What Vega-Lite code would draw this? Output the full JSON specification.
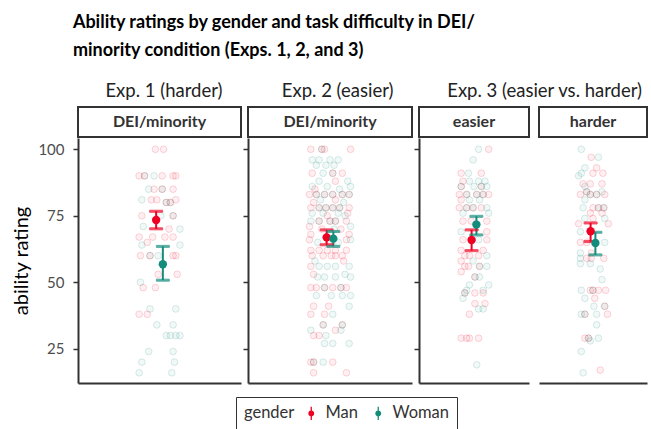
{
"$schema":"https://vega.github.io/schema/vega-lite/v6.json",
"padding":{"left":11,"top":13,"right":0,"bottom":0},
"title":{"text":["Ability ratings by gender and task difficulty in DEI/","minority condition (Exps. 1, 2, and 3)"],"anchor":"start","frame":"bounds","dx":61,"fontSize":18,"font":"Lato","fontWeight":"bold","color":"#000","lineHeight":28,"offset":22},
"datasets":{
"pts":[
{"p":"e1","g":"Man","v":100,"j":-0.03},{"p":"e1","g":"Man","v":100,"j":0.03},{"p":"e1","g":"Man","v":90,"j":-0.15},{"p":"e1","g":"Woman","v":90,"j":-0.11},{"p":"e1","g":"Man","v":90,"j":-0.11},{"p":"e1","g":"Woman","v":90,"j":-0.04},{"p":"e1","g":"Man","v":90,"j":0.02},{"p":"e1","g":"Man","v":90,"j":0.10},{"p":"e1","g":"Man","v":90,"j":0.12},
{"p":"e1","g":"Woman","v":85,"j":-0.08},{"p":"e1","g":"Man","v":85,"j":-0.04},{"p":"e1","g":"Woman","v":85,"j":0.02},{"p":"e1","g":"Man","v":85,"j":0.02},{"p":"e1","g":"Man","v":85,"j":0.10},
{"p":"e1","g":"Woman","v":81,"j":-0.13},{"p":"e1","g":"Man","v":81,"j":-0.06},{"p":"e1","g":"Man","v":81,"j":-0.02},{"p":"e1","g":"Woman","v":80,"j":0.05},{"p":"e1","g":"Man","v":80,"j":0.05},{"p":"e1","g":"Woman","v":80,"j":0.08},{"p":"e1","g":"Man","v":80,"j":0.08},{"p":"e1","g":"Man","v":81,"j":0.12},
{"p":"e1","g":"Man","v":75,"j":-0.13},{"p":"e1","g":"Woman","v":75,"j":0.01},{"p":"e1","g":"Woman","v":75,"j":0.10},{"p":"e1","g":"Man","v":75,"j":0.10},
{"p":"e1","g":"Woman","v":71,"j":-0.12},{"p":"e1","g":"Man","v":70,"j":0.07},{"p":"e1","g":"Woman","v":70,"j":0.15},
{"p":"e1","g":"Man","v":67,"j":-0.15},{"p":"e1","g":"Man","v":67,"j":-0.05},{"p":"e1","g":"Man","v":67,"j":0.04},{"p":"e1","g":"Man","v":67,"j":0.10},{"p":"e1","g":"Man","v":65,"j":-0.09},{"p":"e1","g":"Woman","v":64,"j":-0.13},{"p":"e1","g":"Woman","v":64,"j":0.15},
{"p":"e1","g":"Man","v":60,"j":-0.14},{"p":"e1","g":"Woman","v":60,"j":-0.07},{"p":"e1","g":"Man","v":60,"j":-0.07},{"p":"e1","g":"Woman","v":60,"j":-0.01},{"p":"e1","g":"Man","v":60,"j":0.10},{"p":"e1","g":"Man","v":60,"j":0.12},
{"p":"e1","g":"Man","v":53,"j":-0.01},{"p":"e1","g":"Man","v":53,"j":0.13},{"p":"e1","g":"Woman","v":50,"j":-0.14},{"p":"e1","g":"Man","v":48,"j":-0.12},{"p":"e1","g":"Man","v":48,"j":-0.03},
{"p":"e1","g":"Woman","v":40,"j":-0.07},{"p":"e1","g":"Woman","v":40,"j":0.12},{"p":"e1","g":"Man","v":38,"j":-0.15},{"p":"e1","g":"Man","v":38,"j":-0.09},{"p":"e1","g":"Woman","v":34,"j":-0.02},{"p":"e1","g":"Woman","v":34,"j":0.10},
{"p":"e1","g":"Woman","v":30,"j":0.05},{"p":"e1","g":"Woman","v":30,"j":0.08},{"p":"e1","g":"Woman","v":30,"j":0.12},{"p":"e1","g":"Woman","v":30,"j":0.15},
{"p":"e1","g":"Woman","v":24,"j":-0.08},{"p":"e1","g":"Woman","v":24,"j":0.10},{"p":"e1","g":"Woman","v":20,"j":-0.13},{"p":"e1","g":"Woman","v":20,"j":0.11},{"p":"e1","g":"Woman","v":16,"j":-0.15},{"p":"e1","g":"Woman","v":16,"j":0.09},

{"p":"e2","g":"Man","v":100,"j":-0.14},{"p":"e2","g":"Man","v":100,"j":-0.06},{"p":"e2","g":"Woman","v":100,"j":-0.06},{"p":"e2","g":"Man","v":100,"j":-0.04},{"p":"e2","g":"Man","v":100,"j":0.15},
{"p":"e2","g":"Woman","v":96,"j":-0.13},{"p":"e2","g":"Woman","v":96,"j":-0.08},{"p":"e2","g":"Woman","v":96,"j":0.0},{"p":"e2","g":"Woman","v":96,"j":0.06},
{"p":"e2","g":"Woman","v":94,"j":-0.10},{"p":"e2","g":"Woman","v":94,"j":-0.03},{"p":"e2","g":"Woman","v":94,"j":0.03},
{"p":"e2","g":"Man","v":91,"j":-0.13},{"p":"e2","g":"Woman","v":91,"j":-0.05},{"p":"e2","g":"Woman","v":91,"j":0.02},{"p":"e2","g":"Man","v":91,"j":0.02},{"p":"e2","g":"Man","v":91,"j":0.09},
{"p":"e2","g":"Woman","v":88,"j":-0.08},{"p":"e2","g":"Man","v":88,"j":0.04},{"p":"e2","g":"Woman","v":88,"j":0.13},
{"p":"e2","g":"Woman","v":86,"j":-0.13},{"p":"e2","g":"Woman","v":86,"j":-0.02},{"p":"e2","g":"Woman","v":86,"j":0.15},{"p":"e2","g":"Man","v":85,"j":-0.11},{"p":"e2","g":"Woman","v":85,"j":0.07},
{"p":"e2","g":"Man","v":83,"j":-0.15},{"p":"e2","g":"Man","v":83,"j":-0.10},{"p":"e2","g":"Woman","v":83,"j":-0.10},{"p":"e2","g":"Man","v":83,"j":-0.04},{"p":"e2","g":"Woman","v":83,"j":-0.04},{"p":"e2","g":"Man","v":83,"j":0.02},{"p":"e2","g":"Woman","v":83,"j":0.02},{"p":"e2","g":"Man","v":83,"j":0.09},{"p":"e2","g":"Woman","v":83,"j":0.09},{"p":"e2","g":"Man","v":83,"j":0.14},{"p":"e2","g":"Woman","v":83,"j":0.14},
{"p":"e2","g":"Woman","v":81,"j":-0.07},{"p":"e2","g":"Man","v":81,"j":0.04},{"p":"e2","g":"Man","v":80,"j":-0.12},{"p":"e2","g":"Woman","v":80,"j":0.10},
{"p":"e2","g":"Man","v":78,"j":-0.14},{"p":"e2","g":"Man","v":78,"j":-0.08},{"p":"e2","g":"Woman","v":78,"j":-0.08},{"p":"e2","g":"Man","v":78,"j":-0.03},{"p":"e2","g":"Woman","v":78,"j":-0.03},{"p":"e2","g":"Man","v":78,"j":0.02},{"p":"e2","g":"Woman","v":78,"j":0.02},{"p":"e2","g":"Man","v":78,"j":0.07},{"p":"e2","g":"Woman","v":78,"j":0.07},{"p":"e2","g":"Man","v":78,"j":0.14},
{"p":"e2","g":"Woman","v":76,"j":-0.13},{"p":"e2","g":"Woman","v":76,"j":-0.05},{"p":"e2","g":"Woman","v":76,"j":0.06},{"p":"e2","g":"Man","v":76,"j":0.13},{"p":"e2","g":"Man","v":75,"j":-0.02},{"p":"e2","g":"Woman","v":75,"j":0.11},
{"p":"e2","g":"Woman","v":73,"j":-0.14},{"p":"e2","g":"Woman","v":73,"j":-0.08},{"p":"e2","g":"Man","v":73,"j":-0.08},{"p":"e2","g":"Woman","v":73,"j":0.0},{"p":"e2","g":"Man","v":73,"j":0.0},{"p":"e2","g":"Woman","v":73,"j":0.04},{"p":"e2","g":"Man","v":73,"j":0.04},{"p":"e2","g":"Man","v":73,"j":0.12},
{"p":"e2","g":"Man","v":71,"j":-0.15},{"p":"e2","g":"Woman","v":71,"j":0.15},{"p":"e2","g":"Man","v":70,"j":-0.06},{"p":"e2","g":"Woman","v":70,"j":0.03},{"p":"e2","g":"Man","v":70,"j":0.08},
{"p":"e2","g":"Man","v":68,"j":-0.14},{"p":"e2","g":"Man","v":68,"j":0.14},{"p":"e2","g":"Man","v":66,"j":-0.15},{"p":"e2","g":"Man","v":66,"j":0.12},{"p":"e2","g":"Woman","v":66,"j":0.15},
{"p":"e2","g":"Woman","v":65,"j":-0.09},{"p":"e2","g":"Man","v":65,"j":-0.01},{"p":"e2","g":"Woman","v":65,"j":0.06},
{"p":"e2","g":"Man","v":62,"j":-0.14},{"p":"e2","g":"Man","v":62,"j":-0.08},{"p":"e2","g":"Man","v":62,"j":-0.02},{"p":"e2","g":"Man","v":62,"j":0.04},{"p":"e2","g":"Man","v":62,"j":0.12},
{"p":"e2","g":"Man","v":60,"j":-0.13},{"p":"e2","g":"Man","v":60,"j":-0.05},{"p":"e2","g":"Man","v":60,"j":0.01},{"p":"e2","g":"Man","v":60,"j":0.04},{"p":"e2","g":"Man","v":60,"j":0.09},
{"p":"e2","g":"Woman","v":58,"j":-0.11},{"p":"e2","g":"Man","v":58,"j":0.10},
{"p":"e2","g":"Man","v":56,"j":-0.14},{"p":"e2","g":"Woman","v":56,"j":-0.08},{"p":"e2","g":"Woman","v":56,"j":-0.02},{"p":"e2","g":"Woman","v":56,"j":0.04},{"p":"e2","g":"Woman","v":56,"j":0.14},
{"p":"e2","g":"Man","v":53,"j":-0.12},{"p":"e2","g":"Woman","v":53,"j":0.11},
{"p":"e2","g":"Woman","v":52,"j":-0.09},{"p":"e2","g":"Woman","v":52,"j":-0.04},{"p":"e2","g":"Woman","v":52,"j":0.04},{"p":"e2","g":"Woman","v":52,"j":0.15},
{"p":"e2","g":"Man","v":48,"j":-0.14},{"p":"e2","g":"Man","v":48,"j":-0.10},{"p":"e2","g":"Man","v":48,"j":-0.04},{"p":"e2","g":"Woman","v":48,"j":-0.04},{"p":"e2","g":"Man","v":48,"j":0.02},{"p":"e2","g":"Man","v":48,"j":0.08},{"p":"e2","g":"Woman","v":48,"j":0.08},{"p":"e2","g":"Man","v":48,"j":0.12},
{"p":"e2","g":"Woman","v":45,"j":-0.10},{"p":"e2","g":"Woman","v":45,"j":0.01},{"p":"e2","g":"Woman","v":45,"j":0.09},{"p":"e2","g":"Woman","v":45,"j":0.15},
{"p":"e2","g":"Man","v":41,"j":-0.12},{"p":"e2","g":"Man","v":41,"j":-0.01},{"p":"e2","g":"Woman","v":41,"j":0.14},
{"p":"e2","g":"Man","v":38,"j":-0.14},{"p":"e2","g":"Man","v":38,"j":-0.04},{"p":"e2","g":"Woman","v":38,"j":0.02},
{"p":"e2","g":"Man","v":34,"j":-0.05},{"p":"e2","g":"Woman","v":34,"j":-0.05},{"p":"e2","g":"Man","v":34,"j":0.09},{"p":"e2","g":"Woman","v":34,"j":0.09},
{"p":"e2","g":"Woman","v":32,"j":-0.14},{"p":"e2","g":"Man","v":32,"j":0.04},{"p":"e2","g":"Woman","v":32,"j":0.08},
{"p":"e2","g":"Man","v":30,"j":-0.12},{"p":"e2","g":"Man","v":30,"j":-0.08},{"p":"e2","g":"Woman","v":30,"j":-0.03},
{"p":"e2","g":"Woman","v":27,"j":-0.04},{"p":"e2","g":"Woman","v":27,"j":0.02},{"p":"e2","g":"Woman","v":27,"j":0.14},
{"p":"e2","g":"Man","v":20,"j":-0.14},{"p":"e2","g":"Man","v":20,"j":-0.12},{"p":"e2","g":"Woman","v":20,"j":-0.12},{"p":"e2","g":"Woman","v":20,"j":-0.05},{"p":"e2","g":"Man","v":20,"j":0.02},
{"p":"e2","g":"Man","v":16,"j":-0.12},{"p":"e2","g":"Man","v":16,"j":0.12},

{"p":"e3e","g":"Woman","v":100,"j":0.05},{"p":"e3e","g":"Man","v":100,"j":0.16},{"p":"e3e","g":"Woman","v":96,"j":-0.01},
{"p":"e3e","g":"Man","v":91,"j":-0.14},{"p":"e3e","g":"Woman","v":91,"j":-0.06},{"p":"e3e","g":"Man","v":91,"j":0.08},
{"p":"e3e","g":"Man","v":88,"j":-0.12},{"p":"e3e","g":"Woman","v":88,"j":-0.05},{"p":"e3e","g":"Woman","v":88,"j":0.05},{"p":"e3e","g":"Woman","v":88,"j":0.12},
{"p":"e3e","g":"Man","v":86,"j":-0.14},{"p":"e3e","g":"Woman","v":86,"j":-0.14},{"p":"e3e","g":"Woman","v":86,"j":0.0},{"p":"e3e","g":"Man","v":86,"j":0.08},{"p":"e3e","g":"Woman","v":86,"j":0.08},{"p":"e3e","g":"Woman","v":86,"j":0.14},
{"p":"e3e","g":"Man","v":83,"j":-0.16},{"p":"e3e","g":"Man","v":83,"j":-0.08},{"p":"e3e","g":"Woman","v":83,"j":-0.08},{"p":"e3e","g":"Man","v":83,"j":0.03},{"p":"e3e","g":"Woman","v":83,"j":0.03},{"p":"e3e","g":"Man","v":83,"j":0.10},{"p":"e3e","g":"Woman","v":83,"j":0.10},{"p":"e3e","g":"Man","v":83,"j":0.16},
{"p":"e3e","g":"Man","v":81,"j":-0.14},{"p":"e3e","g":"Woman","v":81,"j":-0.05},{"p":"e3e","g":"Woman","v":81,"j":0.06},
{"p":"e3e","g":"Man","v":78,"j":-0.16},{"p":"e3e","g":"Man","v":78,"j":-0.08},{"p":"e3e","g":"Woman","v":78,"j":-0.08},{"p":"e3e","g":"Man","v":78,"j":-0.01},{"p":"e3e","g":"Woman","v":78,"j":-0.01},{"p":"e3e","g":"Man","v":78,"j":0.08},{"p":"e3e","g":"Woman","v":78,"j":0.14},
{"p":"e3e","g":"Woman","v":76,"j":-0.12},{"p":"e3e","g":"Woman","v":76,"j":0.16},
{"p":"e3e","g":"Man","v":73,"j":-0.12},{"p":"e3e","g":"Man","v":73,"j":-0.03},{"p":"e3e","g":"Man","v":73,"j":0.14},
{"p":"e3e","g":"Woman","v":69,"j":-0.14},{"p":"e3e","g":"Man","v":69,"j":0.14},
{"p":"e3e","g":"Man","v":66,"j":-0.12},{"p":"e3e","g":"Woman","v":66,"j":0.05},{"p":"e3e","g":"Man","v":66,"j":0.14},
{"p":"e3e","g":"Man","v":62,"j":-0.14},{"p":"e3e","g":"Man","v":62,"j":0.10},
{"p":"e3e","g":"Man","v":60,"j":-0.10},{"p":"e3e","g":"Man","v":60,"j":-0.05},{"p":"e3e","g":"Man","v":60,"j":0.05},{"p":"e3e","g":"Woman","v":60,"j":0.14},
{"p":"e3e","g":"Man","v":58,"j":-0.14},{"p":"e3e","g":"Woman","v":58,"j":-0.01},
{"p":"e3e","g":"Man","v":56,"j":-0.10},{"p":"e3e","g":"Man","v":56,"j":-0.06},{"p":"e3e","g":"Man","v":56,"j":0.06},{"p":"e3e","g":"Woman","v":56,"j":0.06},{"p":"e3e","g":"Woman","v":56,"j":0.14},
{"p":"e3e","g":"Man","v":54,"j":-0.14},{"p":"e3e","g":"Man","v":52,"j":0.01},{"p":"e3e","g":"Woman","v":52,"j":0.01},{"p":"e3e","g":"Woman","v":52,"j":0.06},
{"p":"e3e","g":"Woman","v":49,"j":-0.05},{"p":"e3e","g":"Woman","v":49,"j":0.16},{"p":"e3e","g":"Woman","v":47,"j":-0.08},{"p":"e3e","g":"Woman","v":47,"j":0.10},
{"p":"e3e","g":"Man","v":46,"j":-0.10},{"p":"e3e","g":"Woman","v":46,"j":-0.10},{"p":"e3e","g":"Man","v":46,"j":0.01},{"p":"e3e","g":"Man","v":46,"j":0.10},
{"p":"e3e","g":"Woman","v":44,"j":-0.12},{"p":"e3e","g":"Man","v":42,"j":0.01},{"p":"e3e","g":"Man","v":42,"j":0.12},
{"p":"e3e","g":"Woman","v":40,"j":0.05},{"p":"e3e","g":"Woman","v":40,"j":0.10},{"p":"e3e","g":"Man","v":38,"j":-0.05},
{"p":"e3e","g":"Man","v":29,"j":-0.14},{"p":"e3e","g":"Man","v":29,"j":-0.08},{"p":"e3e","g":"Man","v":29,"j":-0.05},{"p":"e3e","g":"Man","v":29,"j":0.05},
{"p":"e3e","g":"Woman","v":19,"j":0.03},

{"p":"e3h","g":"Woman","v":100,"j":-0.13},{"p":"e3h","g":"Man","v":97,"j":-0.02},{"p":"e3h","g":"Woman","v":97,"j":0.06},
{"p":"e3h","g":"Woman","v":93,"j":-0.09},{"p":"e3h","g":"Man","v":93,"j":0.04},
{"p":"e3h","g":"Woman","v":91,"j":-0.13},{"p":"e3h","g":"Man","v":91,"j":0.0},{"p":"e3h","g":"Man","v":91,"j":0.11},{"p":"e3h","g":"Woman","v":90,"j":-0.16},
{"p":"e3h","g":"Man","v":87,"j":-0.11},{"p":"e3h","g":"Man","v":87,"j":-0.03},{"p":"e3h","g":"Man","v":87,"j":0.10},{"p":"e3h","g":"Woman","v":86,"j":-0.09},
{"p":"e3h","g":"Man","v":84,"j":-0.07},{"p":"e3h","g":"Woman","v":84,"j":-0.07},{"p":"e3h","g":"Woman","v":84,"j":0.10},
{"p":"e3h","g":"Man","v":83,"j":-0.14},{"p":"e3h","g":"Man","v":83,"j":-0.03},{"p":"e3h","g":"Woman","v":83,"j":-0.03},{"p":"e3h","g":"Man","v":83,"j":0.04},{"p":"e3h","g":"Woman","v":83,"j":0.04},{"p":"e3h","g":"Man","v":83,"j":0.13},
{"p":"e3h","g":"Woman","v":81,"j":-0.09},
{"p":"e3h","g":"Woman","v":78,"j":-0.11},{"p":"e3h","g":"Man","v":78,"j":0.0},{"p":"e3h","g":"Man","v":78,"j":0.06},{"p":"e3h","g":"Woman","v":78,"j":0.06},{"p":"e3h","g":"Man","v":78,"j":0.12},{"p":"e3h","g":"Woman","v":78,"j":0.12},
{"p":"e3h","g":"Man","v":76,"j":-0.03},{"p":"e3h","g":"Man","v":76,"j":0.10},
{"p":"e3h","g":"Woman","v":74,"j":-0.09},{"p":"e3h","g":"Man","v":74,"j":0.0},{"p":"e3h","g":"Woman","v":74,"j":0.13},
{"p":"e3h","g":"Man","v":72,"j":-0.16},{"p":"e3h","g":"Man","v":72,"j":0.17},{"p":"e3h","g":"Woman","v":69,"j":-0.14},
{"p":"e3h","g":"Man","v":65,"j":-0.14},{"p":"e3h","g":"Man","v":65,"j":-0.07},{"p":"e3h","g":"Woman","v":65,"j":0.13},
{"p":"e3h","g":"Woman","v":61,"j":-0.14},{"p":"e3h","g":"Man","v":61,"j":-0.02},
{"p":"e3h","g":"Woman","v":59,"j":-0.14},{"p":"e3h","g":"Man","v":59,"j":-0.07},{"p":"e3h","g":"Man","v":59,"j":-0.02},{"p":"e3h","g":"Man","v":59,"j":0.12},
{"p":"e3h","g":"Woman","v":57,"j":-0.14},{"p":"e3h","g":"Woman","v":57,"j":-0.03},{"p":"e3h","g":"Woman","v":55,"j":0.08},{"p":"e3h","g":"Woman","v":51,"j":0.10},
{"p":"e3h","g":"Woman","v":47,"j":-0.13},{"p":"e3h","g":"Man","v":47,"j":-0.03},{"p":"e3h","g":"Man","v":47,"j":0.0},{"p":"e3h","g":"Woman","v":47,"j":0.0},{"p":"e3h","g":"Man","v":47,"j":0.06},{"p":"e3h","g":"Man","v":47,"j":0.14},
{"p":"e3h","g":"Woman","v":44,"j":-0.09},{"p":"e3h","g":"Man","v":44,"j":0.02},
{"p":"e3h","g":"Woman","v":41,"j":0.01},{"p":"e3h","g":"Man","v":41,"j":0.13},{"p":"e3h","g":"Woman","v":41,"j":0.13},
{"p":"e3h","g":"Woman","v":38,"j":-0.13},{"p":"e3h","g":"Man","v":38,"j":-0.09},{"p":"e3h","g":"Woman","v":38,"j":-0.09},{"p":"e3h","g":"Woman","v":38,"j":0.04},{"p":"e3h","g":"Man","v":38,"j":0.16},
{"p":"e3h","g":"Woman","v":34,"j":0.04},
{"p":"e3h","g":"Man","v":29,"j":-0.09},{"p":"e3h","g":"Man","v":29,"j":-0.05},{"p":"e3h","g":"Woman","v":29,"j":-0.05},{"p":"e3h","g":"Woman","v":29,"j":0.06},{"p":"e3h","g":"Woman","v":28,"j":-0.03},
{"p":"e3h","g":"Woman","v":24,"j":-0.13},{"p":"e3h","g":"Man","v":17,"j":0.08},{"p":"e3h","g":"Woman","v":16,"j":-0.11}
],
"sum":[
{"p":"e1","g":"Man","m":73.4,"lo":70.1,"hi":76.7},{"p":"e1","g":"Woman","m":56.8,"lo":50.8,"hi":63.5},
{"p":"e2","g":"Man","m":66.9,"lo":64.1,"hi":69.7},{"p":"e2","g":"Woman","m":66.4,"lo":63.5,"hi":69.1},
{"p":"e3e","g":"Man","m":65.9,"lo":61.9,"hi":69.7},{"p":"e3e","g":"Woman","m":71.7,"lo":67.8,"hi":74.8},
{"p":"e3h","g":"Man","m":69.2,"lo":65.3,"hi":72.3},{"p":"e3h","g":"Woman","m":64.8,"lo":60.3,"hi":68.8}
]},
"resolve":{"scale":{"xOffset":"independent"}},
"hconcat":[
{"title":{"text":"Exp. 1 (harder)","anchor":"middle","frame":"bounds","dx":37},
 "spacing":0,
 "vconcat":[
  {"width":163,"height":30,"view":{"stroke":"#333","strokeWidth":2},"data":{"values":[{"s":"DEI/minority"}]},"mark":{"type":"text","font":"Lato","fontWeight":"bold","fontSize":16,"color":"#333"},"encoding":{"text":{"field":"s"}}},
  {"width":163,"height":245,
   "layer":[
    {"data":{"name":"pts"},"transform":[{"filter":"datum.p=='e1'"}],"mark":{"type":"point","shape":"circle","size":45,"strokeWidth":1,"strokeOpacity":0.16,"fillOpacity":0.06},
     "encoding":{"x":{"field":"j","type":"quantitative","scale":{"domain":[-0.6,0.6],"nice":false,"zero":false},"axis":{"labels":false,"ticks":false,"title":null,"grid":false}},
      "y":{"field":"v","type":"quantitative","scale":{"domain":[12.16,104.23],"nice":false,"zero":false},"axis":{"values":[25,50,75,100],"title":"ability rating"}},
      "stroke":{"field":"g","type":"nominal","legend":null},"fill":{"field":"g","type":"nominal","legend":null}}},
    {"data":{"name":"sum"},"transform":[{"filter":"datum.p=='e1'"}],"mark":{"type":"rule","strokeWidth":2},
     "encoding":{"x":{"datum":0,"type":"quantitative"},"xOffset":{"field":"g","type":"nominal","scale":{"type":"point","domain":["Man","Woman"],"range":[-6.7,6.7]}},"y":{"field":"lo","type":"quantitative"},"y2":{"field":"hi"},"stroke":{"field":"g","type":"nominal","legend":null}}},
    {"data":{"name":"sum"},"transform":[{"filter":"datum.p=='e1'"}],"mark":{"type":"tick","orient":"horizontal","size":13,"thickness":2},
     "encoding":{"x":{"datum":0,"type":"quantitative"},"xOffset":{"field":"g","type":"nominal","scale":{"type":"point","domain":["Man","Woman"],"range":[-6.7,6.7]}},"y":{"field":"lo","type":"quantitative"},"stroke":{"field":"g","type":"nominal","legend":null},"fill":{"field":"g","type":"nominal","legend":null}}},
    {"data":{"name":"sum"},"transform":[{"filter":"datum.p=='e1'"}],"mark":{"type":"tick","orient":"horizontal","size":13,"thickness":2},
     "encoding":{"x":{"datum":0,"type":"quantitative"},"xOffset":{"field":"g","type":"nominal","scale":{"type":"point","domain":["Man","Woman"],"range":[-6.7,6.7]}},"y":{"field":"hi","type":"quantitative"},"stroke":{"field":"g","type":"nominal","legend":null},"fill":{"field":"g","type":"nominal","legend":null}}},
    {"data":{"name":"sum"},"transform":[{"filter":"datum.p=='e1'"}],"mark":{"type":"circle","size":70,"opacity":1},
     "encoding":{"x":{"datum":0,"type":"quantitative"},"xOffset":{"field":"g","type":"nominal","scale":{"type":"point","domain":["Man","Woman"],"range":[-6.7,6.7]}},"y":{"field":"m","type":"quantitative"},"color":{"field":"g","type":"nominal","title":"gender","legend":{"orient":"none","legendX":158,"legendY":290,"direction":"horizontal"}}}}
   ]}
 ]},
{"title":{"text":"Exp. 2 (easier)","anchor":"middle","frame":"bounds","dx":10},
 "spacing":0,
 "vconcat":[
  {"width":164,"height":30,"view":{"stroke":"#333","strokeWidth":2},"data":{"values":[{"s":"DEI/minority"}]},"mark":{"type":"text","font":"Lato","fontWeight":"bold","fontSize":16,"color":"#333"},"encoding":{"text":{"field":"s"}}},
  {"width":164,"height":245,
   "layer":[
    {"data":{"name":"pts"},"transform":[{"filter":"datum.p=='e2'"}],"mark":{"type":"point","shape":"circle","size":45,"strokeWidth":1,"strokeOpacity":0.16,"fillOpacity":0.06},
     "encoding":{"x":{"field":"j","type":"quantitative","scale":{"domain":[-0.6,0.6],"nice":false,"zero":false},"axis":{"labels":false,"ticks":false,"title":null,"grid":false}},
      "y":{"field":"v","type":"quantitative","scale":{"domain":[12.16,104.23],"nice":false,"zero":false},"axis":{"values":[25,50,75,100],"labels":false,"title":null}},
      "stroke":{"field":"g","type":"nominal","legend":null},"fill":{"field":"g","type":"nominal","legend":null}}},
    {"data":{"name":"sum"},"transform":[{"filter":"datum.p=='e2'"}],"mark":{"type":"rule","strokeWidth":2},
     "encoding":{"x":{"datum":0,"type":"quantitative"},"xOffset":{"field":"g","type":"nominal","scale":{"type":"point","domain":["Man","Woman"],"range":[-6.7,6.7]}},"y":{"field":"lo","type":"quantitative"},"y2":{"field":"hi"},"stroke":{"field":"g","type":"nominal","legend":null}}},
    {"data":{"name":"sum"},"transform":[{"filter":"datum.p=='e2'"}],"mark":{"type":"tick","orient":"horizontal","size":13,"thickness":2},
     "encoding":{"x":{"datum":0,"type":"quantitative"},"xOffset":{"field":"g","type":"nominal","scale":{"type":"point","domain":["Man","Woman"],"range":[-6.7,6.7]}},"y":{"field":"lo","type":"quantitative"},"stroke":{"field":"g","type":"nominal","legend":null},"fill":{"field":"g","type":"nominal","legend":null}}},
    {"data":{"name":"sum"},"transform":[{"filter":"datum.p=='e2'"}],"mark":{"type":"tick","orient":"horizontal","size":13,"thickness":2},
     "encoding":{"x":{"datum":0,"type":"quantitative"},"xOffset":{"field":"g","type":"nominal","scale":{"type":"point","domain":["Man","Woman"],"range":[-6.7,6.7]}},"y":{"field":"hi","type":"quantitative"},"stroke":{"field":"g","type":"nominal","legend":null},"fill":{"field":"g","type":"nominal","legend":null}}},
    {"data":{"name":"sum"},"transform":[{"filter":"datum.p=='e2'"}],"mark":{"type":"circle","size":70,"opacity":1},
     "encoding":{"x":{"datum":0,"type":"quantitative"},"xOffset":{"field":"g","type":"nominal","scale":{"type":"point","domain":["Man","Woman"],"range":[-6.7,6.7]}},"y":{"field":"m","type":"quantitative"},"color":{"field":"g","type":"nominal","title":"gender"}}}
   ]}
 ]},
{"title":{"text":"Exp. 3 (easier vs. harder)","anchor":"middle","frame":"bounds","dx":14},
 "spacing":8,
 "hconcat":[
  {"spacing":0,"vconcat":[
   {"width":110,"height":30,"view":{"stroke":"#333","strokeWidth":2},"data":{"values":[{"s":"easier"}]},"mark":{"type":"text","font":"Lato","fontWeight":"bold","fontSize":16,"color":"#333"},"encoding":{"text":{"field":"s"}}},
   {"width":110,"height":245,
    "layer":[
     {"data":{"name":"pts"},"transform":[{"filter":"datum.p=='e3e'"}],"mark":{"type":"point","shape":"circle","size":45,"strokeWidth":1,"strokeOpacity":0.16,"fillOpacity":0.06},
      "encoding":{"x":{"field":"j","type":"quantitative","scale":{"domain":[-0.6,0.6],"nice":false,"zero":false},"axis":{"labels":false,"ticks":false,"title":null,"grid":false}},
       "y":{"field":"v","type":"quantitative","scale":{"domain":[12.16,104.23],"nice":false,"zero":false},"axis":{"values":[25,50,75,100],"labels":false,"title":null}},
       "stroke":{"field":"g","type":"nominal","legend":null},"fill":{"field":"g","type":"nominal","legend":null}}},
     {"data":{"name":"sum"},"transform":[{"filter":"datum.p=='e3e'"}],"mark":{"type":"rule","strokeWidth":2},
      "encoding":{"x":{"datum":0,"type":"quantitative"},"xOffset":{"field":"g","type":"nominal","scale":{"type":"point","domain":["Man","Woman"],"range":[-4.8,4.8]}},"y":{"field":"lo","type":"quantitative"},"y2":{"field":"hi"},"stroke":{"field":"g","type":"nominal","legend":null}}},
     {"data":{"name":"sum"},"transform":[{"filter":"datum.p=='e3e'"}],"mark":{"type":"tick","orient":"horizontal","size":13,"thickness":2},
      "encoding":{"x":{"datum":0,"type":"quantitative"},"xOffset":{"field":"g","type":"nominal","scale":{"type":"point","domain":["Man","Woman"],"range":[-4.8,4.8]}},"y":{"field":"lo","type":"quantitative"},"stroke":{"field":"g","type":"nominal","legend":null},"fill":{"field":"g","type":"nominal","legend":null}}},
     {"data":{"name":"sum"},"transform":[{"filter":"datum.p=='e3e'"}],"mark":{"type":"tick","orient":"horizontal","size":13,"thickness":2},
      "encoding":{"x":{"datum":0,"type":"quantitative"},"xOffset":{"field":"g","type":"nominal","scale":{"type":"point","domain":["Man","Woman"],"range":[-4.8,4.8]}},"y":{"field":"hi","type":"quantitative"},"stroke":{"field":"g","type":"nominal","legend":null},"fill":{"field":"g","type":"nominal","legend":null}}},
     {"data":{"name":"sum"},"transform":[{"filter":"datum.p=='e3e'"}],"mark":{"type":"circle","size":70,"opacity":1},
      "encoding":{"x":{"datum":0,"type":"quantitative"},"xOffset":{"field":"g","type":"nominal","scale":{"type":"point","domain":["Man","Woman"],"range":[-4.8,4.8]}},"y":{"field":"m","type":"quantitative"},"color":{"field":"g","type":"nominal","title":"gender"}}}
    ]}
  ]},
  {"spacing":0,"vconcat":[
   {"width":108,"height":30,"view":{"stroke":"#333","strokeWidth":2},"data":{"values":[{"s":"harder"}]},"mark":{"type":"text","font":"Lato","fontWeight":"bold","fontSize":16,"color":"#333"},"encoding":{"text":{"field":"s"}}},
   {"width":108,"height":245,
    "layer":[
     {"data":{"name":"pts"},"transform":[{"filter":"datum.p=='e3h'"}],"mark":{"type":"point","shape":"circle","size":45,"strokeWidth":1,"strokeOpacity":0.16,"fillOpacity":0.06},
      "encoding":{"x":{"field":"j","type":"quantitative","scale":{"domain":[-0.6,0.6],"nice":false,"zero":false},"axis":{"labels":false,"ticks":false,"title":null,"grid":false}},
       "y":{"field":"v","type":"quantitative","scale":{"domain":[12.16,104.23],"nice":false,"zero":false},"axis":null},
       "stroke":{"field":"g","type":"nominal","legend":null},"fill":{"field":"g","type":"nominal","legend":null}}},
     {"data":{"name":"sum"},"transform":[{"filter":"datum.p=='e3h'"}],"mark":{"type":"rule","strokeWidth":2},
      "encoding":{"x":{"datum":0,"type":"quantitative"},"xOffset":{"field":"g","type":"nominal","scale":{"type":"point","domain":["Man","Woman"],"range":[-4.8,4.8]}},"y":{"field":"lo","type":"quantitative"},"y2":{"field":"hi"},"stroke":{"field":"g","type":"nominal","legend":null}}},
     {"data":{"name":"sum"},"transform":[{"filter":"datum.p=='e3h'"}],"mark":{"type":"tick","orient":"horizontal","size":13,"thickness":2},
      "encoding":{"x":{"datum":0,"type":"quantitative"},"xOffset":{"field":"g","type":"nominal","scale":{"type":"point","domain":["Man","Woman"],"range":[-4.8,4.8]}},"y":{"field":"lo","type":"quantitative"},"stroke":{"field":"g","type":"nominal","legend":null},"fill":{"field":"g","type":"nominal","legend":null}}},
     {"data":{"name":"sum"},"transform":[{"filter":"datum.p=='e3h'"}],"mark":{"type":"tick","orient":"horizontal","size":13,"thickness":2},
      "encoding":{"x":{"datum":0,"type":"quantitative"},"xOffset":{"field":"g","type":"nominal","scale":{"type":"point","domain":["Man","Woman"],"range":[-4.8,4.8]}},"y":{"field":"hi","type":"quantitative"},"stroke":{"field":"g","type":"nominal","legend":null},"fill":{"field":"g","type":"nominal","legend":null}}},
     {"data":{"name":"sum"},"transform":[{"filter":"datum.p=='e3h'"}],"mark":{"type":"circle","size":70,"opacity":1},
      "encoding":{"x":{"datum":0,"type":"quantitative"},"xOffset":{"field":"g","type":"nominal","scale":{"type":"point","domain":["Man","Woman"],"range":[-4.8,4.8]}},"y":{"field":"m","type":"quantitative"},"color":{"field":"g","type":"nominal","title":"gender"}}}
    ]}
  ]}
 ]}
],
"spacing":0,
"config":{
 "font":"Lato",
 "view":{"stroke":null},
 "range":{"category":["#EE0022","#138C7B"]},
 "axis":{"grid":false,"domainColor":"#333","domainWidth":2,"tickColor":"#333","tickWidth":1.5,"tickSize":5,"labelFont":"Lato","labelFontSize":15,"labelColor":"#4D4D4D","labelPadding":9,"titleFont":"Lato","titleFontSize":20,"titleFontWeight":"normal","titleColor":"#000","titlePadding":6},
 "title":{"font":"Lato","fontSize":18.5,"fontWeight":"normal","color":"#222","offset":6},
 "legend":{"direction":"horizontal","titleOrient":"left","titleFont":"Lato","titleFontSize":16.5,"titleFontWeight":"normal","titleColor":"#333","labelFont":"Lato","labelFontSize":16.5,"labelColor":"#333","symbolType":"M-0.1,-1H0.1V1H-0.1Z M0,-0.45A0.45,0.45 0 1 1 0,0.45A0.45,0.45 0 1 1 0,-0.45Z","symbolSize":170,"symbolStrokeWidth":0,"symbolOpacity":1,"strokeColor":"#333","padding":8,"columnPadding":12,"labelOffset":6,"titlePadding":8}
}
}
